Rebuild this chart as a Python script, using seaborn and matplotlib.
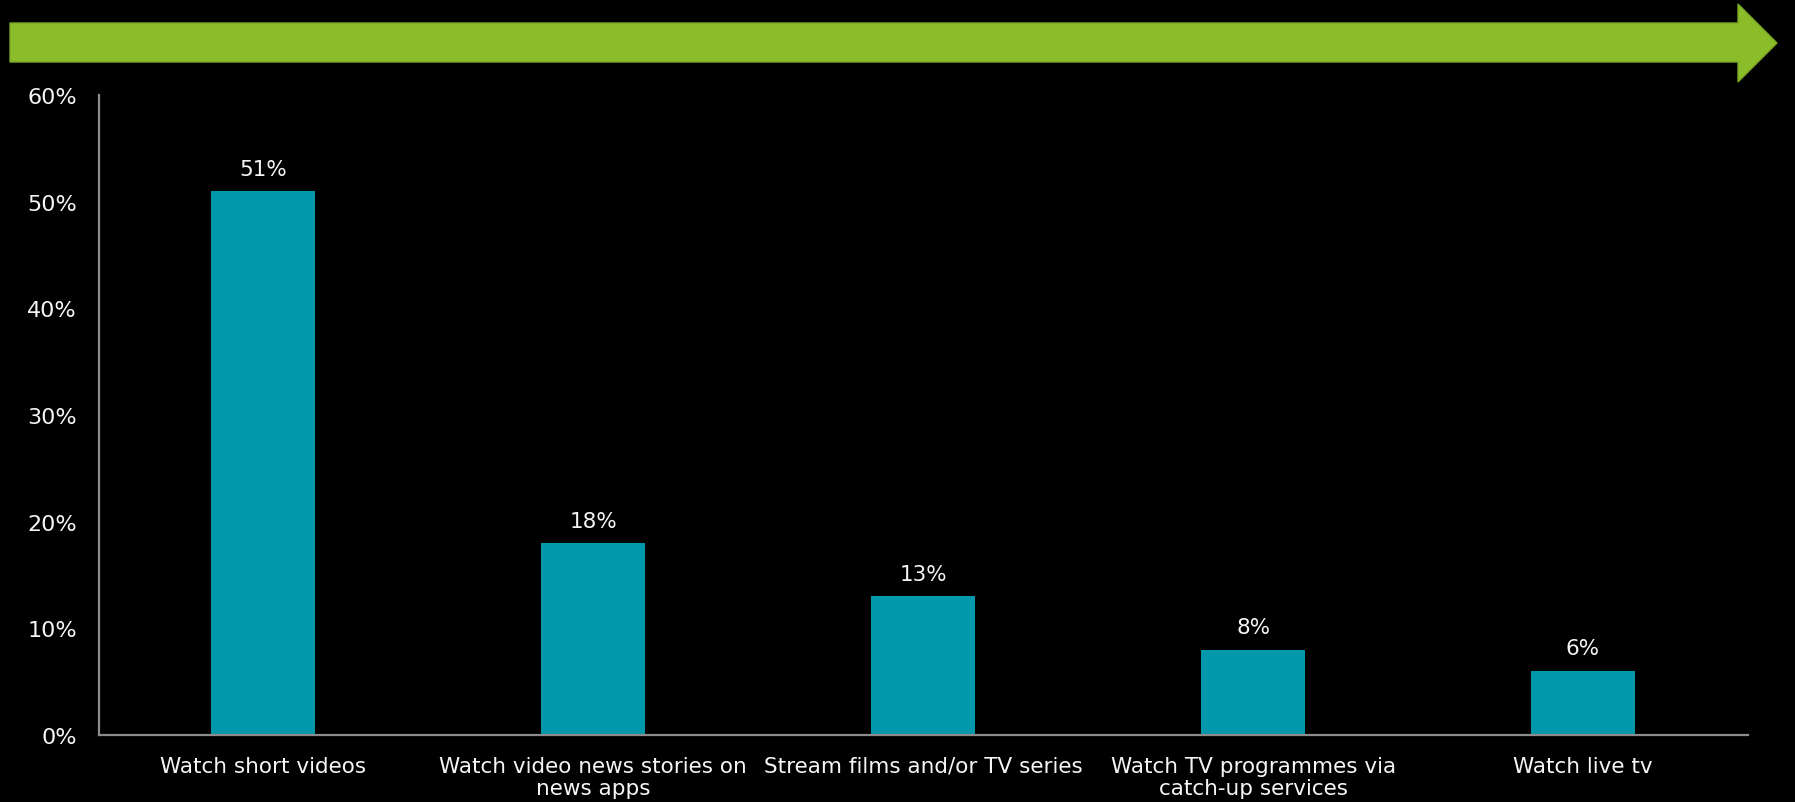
import matplotlib
matplotlib.use("Agg")
import matplotlib.pyplot as plt
from matplotlib.patches import Polygon
import seaborn as sns
import pandas as pd

categories = [
    "Watch short videos",
    "Watch video news stories on\nnews apps",
    "Stream films and/or TV series",
    "Watch TV programmes via\ncatch-up services",
    "Watch live tv",
]
values = [51, 18, 13, 8, 6]
y_ticks = [0, 10, 20, 30, 40, 50, 60]

BG = "#000000"
BAR = "#0098AA"
GREEN = "#8BBD2A"
AXIS = "#8C8C8C"
TEXT = "#F5F5F5"

sns.set_theme(style="dark")
plt.rcParams["font.family"] = ["DejaVu Sans"]

df = pd.DataFrame({"activity": categories, "share": values})

W, H = 1795, 803
fig = plt.figure(figsize=(W / 100, H / 100), dpi=100, facecolor=BG)
ax = fig.add_axes([98.5 / W, 1 - 736 / H, (1748 - 98.5) / W, (736 - 96) / H])
ax.set_facecolor(BG)

sns.barplot(data=df, x="activity", y="share", color=BAR, width=0.315,
            saturation=1, edgecolor=BAR, linewidth=0, ax=ax)

ax.set_ylim(0, 60)
ax.set_xlim(-0.5, len(categories) - 0.5)
ax.set_yticks(y_ticks)
ax.set_yticklabels([f"{t}%" for t in y_ticks])
ax.set_xlabel("")
ax.set_ylabel("")
ax.grid(False)

ax.tick_params(axis="y", length=0, pad=15.5, labelsize=16, labelcolor=TEXT)
ax.tick_params(axis="x", length=0, pad=15, labelsize=15.5, labelcolor=TEXT)
for lbl in ax.get_xticklabels():
    lbl.set_multialignment("center")
    lbl.set_linespacing(1.15)

for side in ("top", "right"):
    ax.spines[side].set_visible(False)
for side in ("left", "bottom"):
    ax.spines[side].set_visible(True)
    ax.spines[side].set_color(AXIS)
    ax.spines[side].set_linewidth(1.6)

for container in ax.containers:
    ax.bar_label(container, labels=[f"{v}%" for v in values], padding=9,
                 color=TEXT, fontsize=15.5)

# Green direction arrow across the top of the figure
def fx(px):
    return px / W

def fy(py):
    return 1 - py / H

arrow_pts = [
    (fx(10), fy(24)), (fx(1738), fy(24)), (fx(1738), fy(5)),
    (fx(1777), fy(44)), (fx(1738), fy(83)), (fx(1738), fy(63)),
    (fx(10), fy(63)),
]
fig.patches.append(Polygon(arrow_pts, closed=True, transform=fig.transFigure,
                           facecolor=GREEN, edgecolor="#7AA824", linewidth=1))

fig.savefig("out.png", dpi=100, facecolor=BG)
